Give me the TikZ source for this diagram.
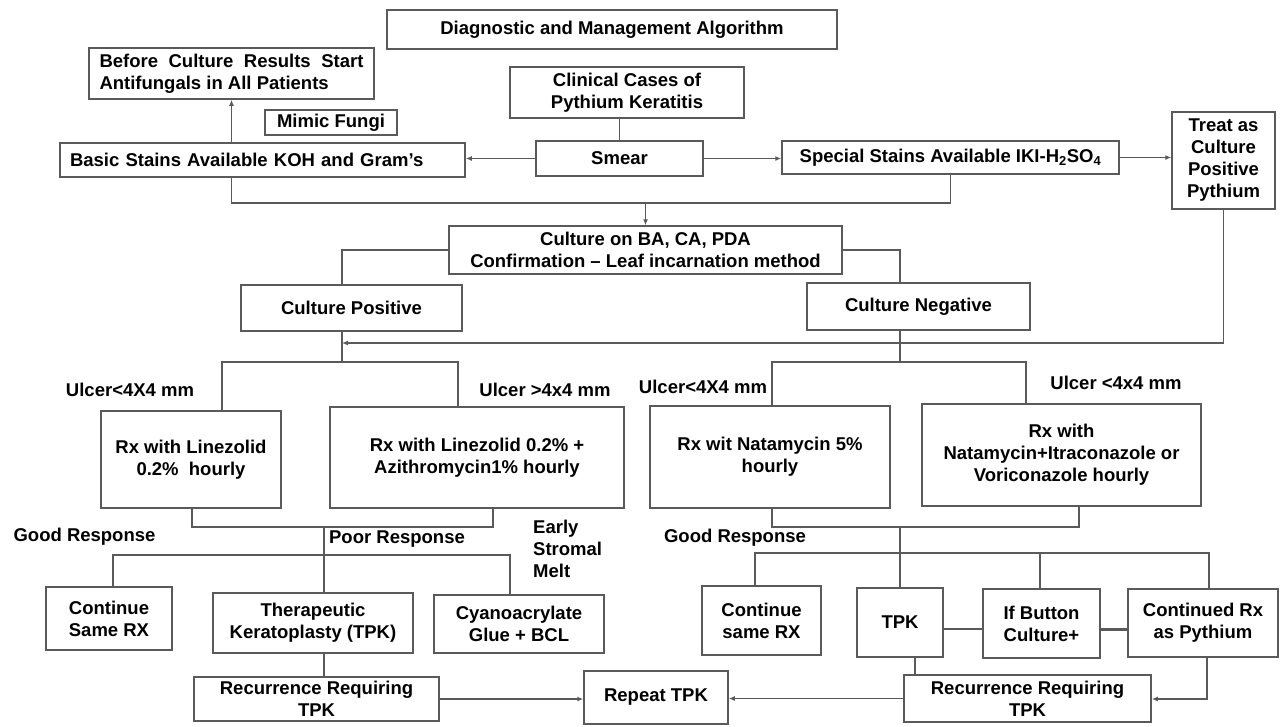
\documentclass[tikz,border=0pt]{standalone}
\usepackage{fontspec}
\setmainfont{Liberation Sans}
\usetikzlibrary{arrows.meta}
\definecolor{lc}{HTML}{5A5A5A}
\tikzset{
  bx/.style={draw=lc, line width=1.5pt, fill=white, inner sep=2pt, align=center,
    font=\fontsize{18.5}{22}\selectfont\bfseries, text=black},
  lbl/.style={inner sep=0pt, align=left, font=\fontsize{18.5}{22}\selectfont\bfseries, text=black},
  ln/.style={draw=lc, line width=1.5pt},
  arr/.style={ln, -{Latex[length=6pt,width=5pt]}},
}
\begin{document}
\begin{tikzpicture}[x=1pt,y=-1pt]
\useasboundingbox (0,0) rectangle (1284,726);
\fill[white] (0,0) rectangle (1284,726);
% boxes
\node[bx, minimum width=450, minimum height=39] (title) at (612,29.5) {Diagnostic and Management Algorithm};
\node[bx, minimum width=285, minimum height=51, text width=264, align=justify] (before) at (231.5,73.5) {Before Culture Results Start Antifungals in All Patients};
\node[bx, minimum width=132, minimum height=25] (mimic) at (331,122.5) {Mimic Fungi};
\node[bx, minimum width=405, minimum height=34, text width=385, inner xsep=10pt, align=left] (basic) at (262.5,160) {Basic Stains Available KOH and Gram’s};
\node[bx, minimum width=234, minimum height=51] (clin) at (627,92.5) {Clinical Cases of\\Pythium Keratitis};
\node[bx, minimum width=167, minimum height=35] (smear) at (619.5,158.5) {Smear};
\node[bx, minimum width=337, minimum height=33] (special) at (950.5,157.5) {Special Stains Available IKI-H\textsubscript{2}SO\textsubscript{4}};
\node[bx, minimum width=103, minimum height=97] (treat) at (1223.5,160.5) {Treat as\\Culture\\Positive\\Pythium};
\node[bx, minimum width=393, minimum height=48] (culture) at (645.5,250) {Culture on BA, CA, PDA\\Confirmation – Leaf incarnation method};
\node[bx, minimum width=221, minimum height=46] (cpos) at (351.5,308) {Culture Positive};
\node[bx, minimum width=223, minimum height=47] (cneg) at (918.5,306.5) {Culture Negative};
\node[bx, minimum width=180, minimum height=97] (lin1) at (191,459.5) {Rx with Linezolid\\0.2\%\ \ hourly};
\node[bx, minimum width=294, minimum height=101] (lin2) at (477,457.5) {Rx with Linezolid 0.2\% +\\Azithromycin1\% hourly};
\node[bx, minimum width=240, minimum height=102] (nat1) at (770,457) {Rx wit Natamycin 5\%\\hourly};
\node[bx, minimum width=279, minimum height=102] (nat2) at (1061.5,455) {Rx with\\Natamycin+Itraconazole or\\Voriconazole hourly};
\node[bx, minimum width=126, minimum height=63] (contL) at (109,618.5) {Continue\\Same RX};
\node[bx, minimum width=200, minimum height=60] (tpkL) at (313,623) {Therapeutic\\Keratoplasty (TPK)};
\node[bx, minimum width=170, minimum height=58] (cyano) at (519,624) {Cyanoacrylate\\Glue + BCL};
\node[bx, minimum width=245, minimum height=44] (recL) at (316.5,699) {Recurrence Requiring\\TPK};
\node[bx, minimum width=144, minimum height=53] (repeat) at (656,697.5) {Repeat TPK};
\node[bx, minimum width=119, minimum height=69] (contR) at (761.5,620.5) {Continue\\same RX};
\node[bx, minimum width=86, minimum height=69] (tpkR) at (900,622.5) {TPK};
\node[bx, minimum width=117, minimum height=69] (ifb) at (1041.5,623.5) {If Button\\Culture+};
\node[bx, minimum width=150, minimum height=68] (crx) at (1203,623) {Continued Rx\\as Pythium};
\node[bx, minimum width=247, minimum height=47] (recR) at (1027.5,698.5) {Recurrence Requiring\\TPK};
% labels
\node[lbl] (u1) at (130,390) {Ulcer<4X4 mm};
\node[lbl] (u2) at (545,390) {Ulcer >4x4 mm};
\node[lbl] (u3) at (703,387) {Ulcer<4X4 mm};
\node[lbl] (u4) at (1116,383) {Ulcer <4x4 mm};
\node[lbl] (g1) at (84.5,537) {Good Response};
\node[lbl] (pr) at (397,539) {Poor Response};
\node[lbl, anchor=west] (esm) at (533,549) {Early\\Stromal\\Melt};
\node[lbl] (g2) at (735,538) {Good Response};
% connectors top
\coordinate (jm) at (645.5,203);
\draw[ln] (basic.south -| before.south) |- (jm) -| (special.south);
\draw[arr] (jm) -- (culture.north);
\draw[arr] (basic.north -| before.south) -- (before.south);
\draw[ln] (clin.south -| smear.north) -- (smear.north);
\draw[arr] (smear.west) -- (smear.west -| basic.east);
\draw[arr] (smear.east) -- (smear.east -| special.west);
\draw[arr] (special.east) -- (special.east -| treat.west);
\coordinate (xp) at (342,343);
\coordinate (xn) at (900,362);
\draw[ln] (culture.west) -| (xp |- cpos.north);
\draw[ln] (culture.east) -| (xn |- cneg.north);
\draw[arr] (treat.south) |- (xp);
\coordinate (jp) at (342,362);
\draw[ln] (xp |- cpos.south) -- (jp);
\coordinate (l1) at (222,362); \coordinate (l2) at (458,362);
\draw[ln] (l1 |- lin1.north) -- (l1) -- (l2) -- (l2 |- lin2.north);
\draw[ln] (xn |- cneg.south) -- (xn);
\coordinate (n1) at (772,362); \coordinate (n2) at (1026,362);
\draw[ln] (n1 |- nat1.north) -- (n1) -- (n2) -- (n2 |- nat2.north);
% bottom left
\coordinate (b1) at (192,527); \coordinate (b2) at (493,527); \coordinate (bm) at (324,527);
\draw[ln] (b1 |- lin1.south) -- (b1) -- (b2) -- (b2 |- lin2.south);
\draw[ln] (bm) -- (bm |- tpkL.north);
\coordinate (h1) at (113,555); \coordinate (h2) at (510,555);
\draw[ln] (h1 |- contL.north) -- (h1) -- (h2) -- (h2 |- cyano.north);
\draw[ln] (bm |- tpkL.south) -- (bm |- recL.north);
\draw[arr] (recL.east) -- (recL.east -| repeat.west);
% bottom right
\coordinate (c1) at (772,527); \coordinate (c2) at (1079,527); \coordinate (cm) at (900,527);
\draw[ln] (c1 |- nat1.south) -- (c1) -- (c2) -- (c2 |- nat2.south);
\draw[ln] (cm) -- (cm |- tpkR.north);
\coordinate (k1) at (755,553); \coordinate (k2) at (1209,553); \coordinate (k3) at (1040,553);
\draw[ln] (k1 |- contR.north) -- (k1) -- (k2) -- (k2 |- crx.north);
\draw[ln] (k3) -- (k3 |- ifb.north);
\coordinate (hy) at (0,629);
\draw[ln] (tpkR.east |- hy) -- (ifb.west |- hy);
\draw[ln, line width=3pt] (ifb.east |- hy) -- (crx.west |- hy);
\coordinate (tr) at (915,0);
\draw[ln] (tr |- tpkR.south) -- (tr |- recR.north);
\coordinate (cr) at (1207,699);
\draw[arr] (cr |- crx.south) -- (cr) -- (cr -| recR.east);
\draw[arr] (recR.west) -- (recR.west -| repeat.east);
\end{tikzpicture}
\end{document}
